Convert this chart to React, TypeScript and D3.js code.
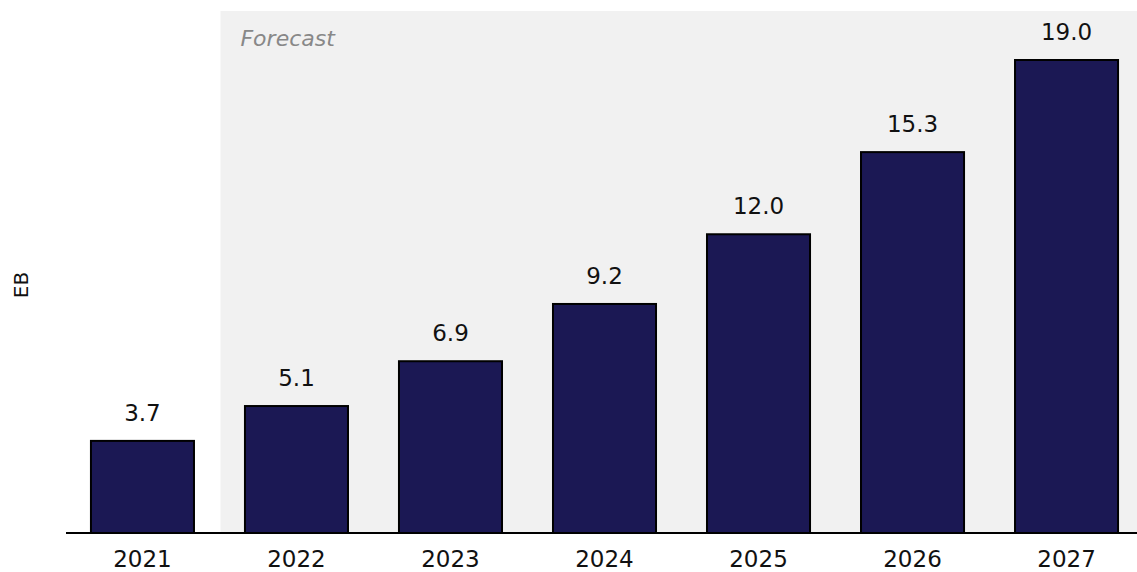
import React from "react";
import * as d3 from "d3";

const years = ["2021", "2022", "2023", "2024", "2025", "2026", "2027"];
const values = [3.7, 5.1, 6.9, 9.2, 12.0, 15.3, 19.0];
const labels = ["3.7", "5.1", "6.9", "9.2", "12.0", "15.3", "19.0"];
const forecastStart = "2022";
const yTitle = "EB";
const forecastLabel = "Forecast";

const W = 1137;
const H = 572;
const baseY = 533;
const FONT = "'DejaVu Sans', sans-serif";

export default function App() {
  const x = d3.scaleBand<string>().domain(years).range([66, 1143]).paddingInner(0.331).paddingOuter(0.162);
  const y = d3.scaleLinear().domain([0, 19]).range([baseY, 60]);
  const fx = (x(forecastStart) ?? 0) - (x.step() - x.bandwidth()) / 2 + 1;
  return (
    <svg width={W} height={H} style={{ position: "absolute", left: 0, top: 0 }}>
      <rect x={fx} y={11} width={W - fx} height={baseY - 11} fill="#f1f1f1" />
      <text x={fx + 20} y={46} fontFamily={FONT} fontStyle="italic" fontSize={22} fill="#888">
        {forecastLabel}
      </text>
      {years.map((yr, i) => (
        <g key={yr}>
          <rect
            x={x(yr)}
            y={y(values[i])}
            width={x.bandwidth()}
            height={baseY - y(values[i])}
            fill="#1b1854"
            stroke="#000"
            strokeWidth={2}
          />
          <text
            x={(x(yr) ?? 0) + x.bandwidth() / 2}
            y={y(values[i]) - 20}
            textAnchor="middle"
            fontFamily={FONT}
            fontSize={23}
            fill="#111"
          >
            {labels[i]}
          </text>
          <text
            x={(x(yr) ?? 0) + x.bandwidth() / 2}
            y={567}
            textAnchor="middle"
            fontFamily={FONT}
            fontSize={23}
            fill="#111"
          >
            {yr}
          </text>
        </g>
      ))}
      <line x1={66} x2={W} y1={baseY} y2={baseY} stroke="#000" strokeWidth={2} />
      <text
        transform={`translate(28,${285}) rotate(-90)`}
        textAnchor="middle"
        fontFamily={FONT}
        fontSize={20}
        fill="#111"
      >
        {yTitle}
      </text>
    </svg>
  );
}
